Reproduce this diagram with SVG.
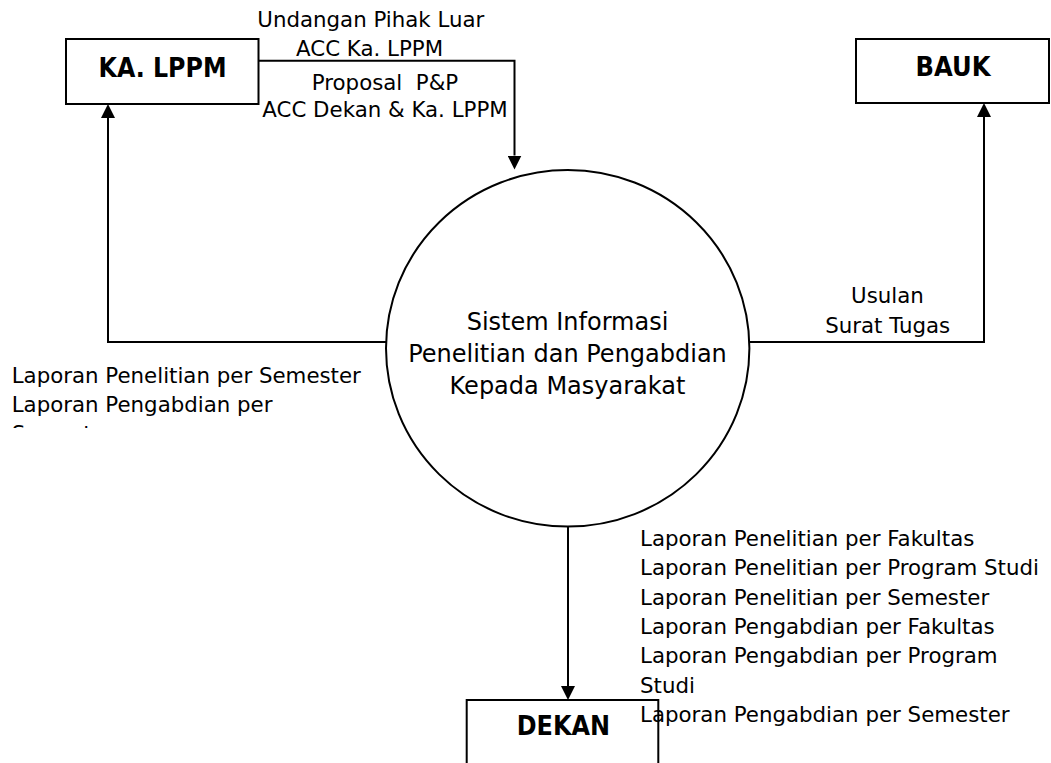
<svg xmlns="http://www.w3.org/2000/svg" width="1051" height="763" viewBox="0 0 1051 763">
  <style>
    .box { fill: #fff; stroke: #000; stroke-width: 2; }
    .proc { fill: #fff; stroke: #000; stroke-width: 2; }
    .flow { fill: none; stroke: #000; stroke-width: 2; }
    .ent { font-family: "DejaVu Sans", Verdana, sans-serif; font-weight: bold; font-size: 26.67px; fill: #000; }
    .ttl { font-family: "DejaVu Sans", Verdana, sans-serif; font-size: 24px; fill: #000; text-anchor: middle; }
    .lbl { font-family: "DejaVu Sans", Verdana, sans-serif; font-size: 21.33px; fill: #000; }
    .mid { text-anchor: middle; }
  </style>
  <defs>
    <marker id="arrow" markerUnits="userSpaceOnUse" markerWidth="14" markerHeight="14" refX="0" refY="7" orient="auto" viewBox="0 0 14 14">
      <path d="M0,0 L14,7 L0,14 Z" fill="#000"/>
    </marker>
    <clipPath id="clipLeft">
      <rect x="0" y="350" width="380" height="78"/>
    </clipPath>
  </defs>
  <rect width="1051" height="763" fill="#fff"/>

  <g id="connectors">
    <path class="flow" d="M258.5,60.8 H514.5 V155.5" marker-end="url(#arrow)"/>
    <path class="flow" d="M386,342 H108 V118" marker-end="url(#arrow)"/>
    <path class="flow" d="M749.5,342 H984 V117" marker-end="url(#arrow)"/>
    <path class="flow" d="M568,526.7 V686" marker-end="url(#arrow)"/>
  </g>

  <g id="node-ka-lppm">
    <rect class="box" x="66" y="39" width="192.5" height="65"/>
    <text class="ent" x="98.5" y="76.5" textLength="128" lengthAdjust="spacingAndGlyphs">KA. LPPM</text>
  </g>

  <g id="node-bauk">
    <rect class="box" x="856" y="39" width="193" height="64"/>
    <text class="ent" x="915.5" y="75.5" textLength="75" lengthAdjust="spacingAndGlyphs">BAUK</text>
  </g>

  <g id="node-process">
    <ellipse class="proc" cx="567.7" cy="348.3" rx="181.7" ry="178.3"/>
    <text class="ttl" x="567.5" y="330">Sistem Informasi</text>
    <text class="ttl" x="567.5" y="362.3">Penelitian dan Pengabdian</text>
    <text class="ttl" x="567.5" y="394.3">Kepada Masyarakat</text>
  </g>

  <g id="node-dekan">
    <rect class="box" x="466.7" y="700" width="191.6" height="100"/>
    <text class="ent" x="516.7" y="735" textLength="93.3" lengthAdjust="spacingAndGlyphs">DEKAN</text>
  </g>

  <g id="flow-labels">
    <text class="lbl mid" x="370.8" y="27">Undangan Pihak Luar</text>
    <text class="lbl mid" x="369.6" y="55.7">ACC Ka. LPPM</text>
    <text class="lbl mid" x="385" y="89.5" xml:space="preserve">Proposal  P&amp;P</text>
    <text class="lbl mid" x="385" y="116.6">ACC Dekan &amp; Ka. LPPM</text>

    <text class="lbl mid" x="887.5" y="303.3">Usulan</text>
    <text class="lbl mid" x="887.7" y="333.3">Surat Tugas</text>

    <g clip-path="url(#clipLeft)">
      <text class="lbl" x="11.7" y="382.7">Laporan Penelitian per Semester</text>
      <text class="lbl" x="11.7" y="411.7">Laporan Pengabdian per</text>
      <text class="lbl" x="11.7" y="440.7">Semester</text>
    </g>

    <text class="lbl" x="640" y="546">Laporan Penelitian per Fakultas</text>
    <text class="lbl" x="640" y="575.3">Laporan Penelitian per Program Studi</text>
    <text class="lbl" x="640" y="604.6">Laporan Penelitian per Semester</text>
    <text class="lbl" x="640" y="633.9">Laporan Pengabdian per Fakultas</text>
    <text class="lbl" x="640" y="663.2">Laporan Pengabdian per Program</text>
    <text class="lbl" x="640" y="692.5">Studi</text>
    <text class="lbl" x="640" y="721.8">Laporan Pengabdian per Semester</text>
  </g>
</svg>
